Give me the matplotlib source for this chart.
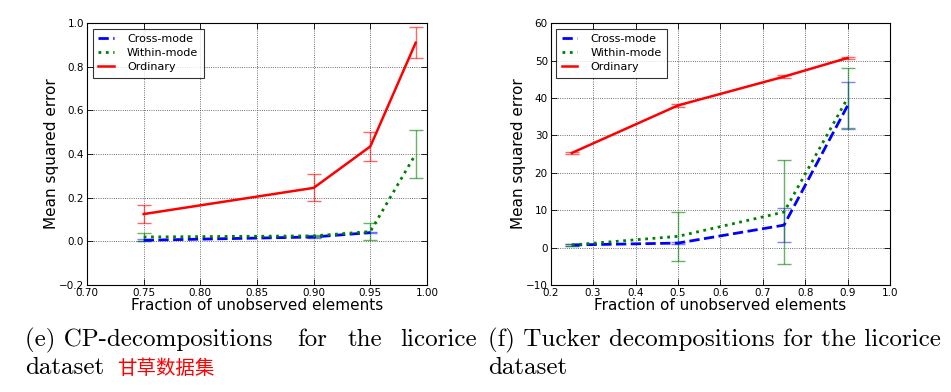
import matplotlib
matplotlib.use("Agg")
import matplotlib.pyplot as plt
import numpy as np

# ---- data: left panel (CP) ----
cp_x = [0.75, 0.90, 0.95, 0.99]
cp_ord = [0.125, 0.245, 0.435, 0.91]
cp_ord_err = [0.04, 0.062, 0.065, 0.072]
cp_within = [0.02, 0.025, 0.045, 0.40]
cp_within_err = [0.02, 0.005, 0.04, 0.11]
cp_cross_x = [0.75, 0.90, 0.95]
cp_cross = [0.005, 0.02, 0.04]
cp_cross_err = [0.004, 0.004, 0.004]

# ---- data: right panel (Tucker) ----
tk_x = [0.25, 0.5, 0.75, 0.9]
tk_ord = [25.3, 38.0, 45.7, 50.7]
tk_ord_err = [0.3, 0.3, 0.3, 0.3]
tk_within = [0.7, 3.0, 9.5, 40.0]
tk_within_err = [0.3, 6.6, 14.0, 8.0]
tk_cross = [0.7, 1.2, 6.0, 38.0]
tk_cross_err = [0.3, 0.3, 4.6, 6.3]

labels = ["Cross-mode", "Within-mode", "Ordinary"]
caption_e1 = ["(e) CP-decompositions", "for", "the", "licorice"]
caption_e2 = "dataset"
caption_e_cn = "甘草数据集"
caption_f1 = "(f) Tucker decompositions for the licorice"
caption_f2 = "dataset"

fig = plt.figure(figsize=(9.51, 3.92), dpi=100)
fig.patch.set_facecolor("white")

def style_ax(ax):
    ax.tick_params(direction="in", which="both", top=True, right=True,
                   labelsize=7.5, length=4, width=0.6, pad=2)
    ax.grid(True, linestyle=":", color="0.25", linewidth=0.6)
    for s in ax.spines.values():
        s.set_linewidth(0.8)
    ax.set_xlabel("Fraction of unobserved elements", fontsize=11, labelpad=0)
    ax.set_ylabel("Mean squared error", fontsize=11, labelpad=0)

def draw(ax, xc, yc, ec, xw, yw, ew, xo, yo, eo):
    ax.errorbar(xc, yc, yerr=ec, fmt="none", ecolor="blue", alpha=0.5, capsize=5, elinewidth=1, capthick=1)
    ax.errorbar(xw, yw, yerr=ew, fmt="none", ecolor="green", alpha=0.6, capsize=5, elinewidth=1, capthick=1)
    ax.errorbar(xo, yo, yerr=eo, fmt="none", ecolor="red", alpha=0.6, capsize=5, elinewidth=1, capthick=1)
    ax.plot(xc, yc, "--", color="blue", lw=2, label=labels[0])
    ax.plot(xw, yw, ":", color="green", lw=2, label=labels[1])
    ax.plot(xo, yo, "-", color="red", lw=1.8, label=labels[2])
    leg = ax.legend(loc="upper left", fontsize=8, frameon=True, fancybox=False,
                    handlelength=1.4, borderpad=0.5, labelspacing=0.35, handletextpad=1.2,
                    borderaxespad=0.5)
    leg.get_frame().set_edgecolor("black")
    leg.get_frame().set_linewidth(0.8)

ax1 = fig.add_axes([0.0915, 0.273, 0.3575, 0.668])
draw(ax1, cp_cross_x, cp_cross, cp_cross_err, cp_x, cp_within, cp_within_err, cp_x, cp_ord, cp_ord_err)
ax1.set_xlim(0.70, 1.00)
ax1.set_ylim(-0.2, 1.0)
ax1.set_xticks(np.arange(0.70, 1.001, 0.05))
ax1.set_xticklabels([f"{v:.2f}" for v in np.arange(0.70, 1.001, 0.05)])
ax1.set_yticks(np.arange(-0.2, 1.001, 0.2))
ax1.set_yticklabels(["\u22120.2"] + [f"{v:.1f}" for v in np.arange(0.0, 1.001, 0.2)])
style_ax(ax1)

ax2 = fig.add_axes([0.579, 0.273, 0.357, 0.668])
draw(ax2, tk_x, tk_cross, tk_cross_err, tk_x, tk_within, tk_within_err, tk_x, tk_ord, tk_ord_err)
ax2.set_xlim(0.2, 1.0)
ax2.set_ylim(-10, 60)
ax2.set_xticks(np.arange(0.2, 1.001, 0.1))
ax2.set_xticklabels([f"{v:.1f}" for v in np.arange(0.2, 1.001, 0.1)])
ax2.set_yticks(np.arange(-10, 61, 10))
ax2.set_yticklabels(["\u221210"] + [str(v) for v in range(0, 61, 10)])
style_ax(ax2)

serif = ["cmr10", "DejaVu Serif"]
cfs = 18
y1 = 1 - 340 / 392
y2 = 1 - 368 / 392
# justified first line of caption (e)
fig.text(25 / 951, y1, caption_e1[0], family=serif, fontsize=cfs, va="center", ha="left")
fig.text(297 / 951, y1, caption_e1[1], family=serif, fontsize=cfs, va="center", ha="left")
fig.text(348 / 951, y1, caption_e1[2], family=serif, fontsize=cfs, va="center", ha="left")
fig.text(477 / 951, y1, caption_e1[3], family=serif, fontsize=cfs, va="center", ha="right")
fig.text(25 / 951, y2, caption_e2, family=serif, fontsize=cfs, va="center", ha="left")
fig.text(117 / 951, y2, caption_e_cn, family=["Noto Sans CJK SC", "DejaVu Sans"],
         fontsize=14, color="red", va="center", ha="left")
fig.text(488 / 951, y1, caption_f1, family=serif, fontsize=cfs, va="center", ha="left")
fig.text(488 / 951, y2, caption_f2, family=serif, fontsize=cfs, va="center", ha="left")

fig.savefig("out.png", dpi=100, facecolor="white")
